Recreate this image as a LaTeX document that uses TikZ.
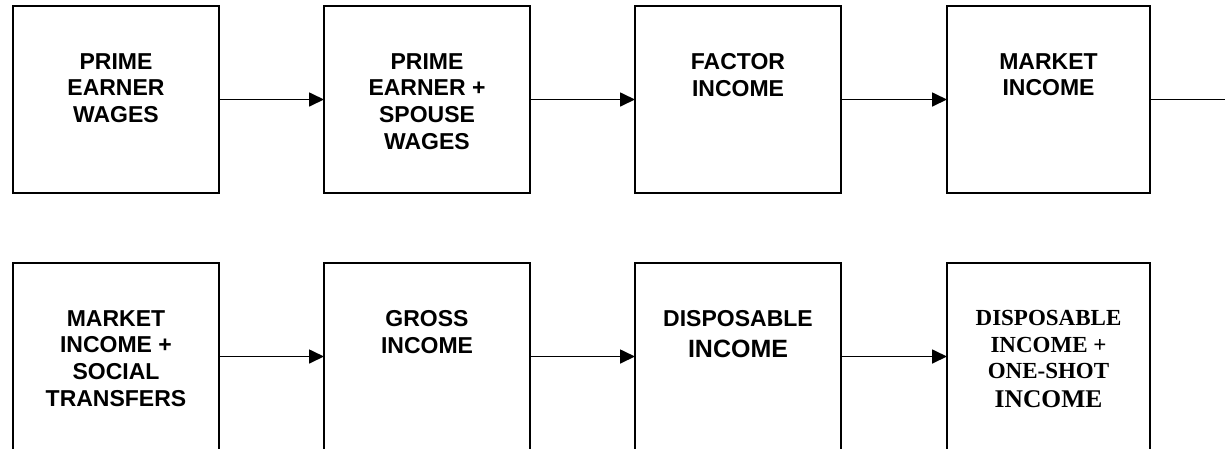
\documentclass[tikz,border=0pt]{standalone}
\usepackage{fontspec}
\setmainfont{Liberation Sans}
\newfontfamily\timesfont{Liberation Serif}
\usetikzlibrary{arrows.meta}
\tikzset{
  box/.style={draw=black, line width=2pt, rectangle, minimum height=187pt, inner sep=0pt, outer sep=0pt},
  wbox/.style={box, minimum width=206pt},
  nbox/.style={box, minimum width=203pt},
  lbl/.style={anchor=north, align=center, inner sep=0pt, font=\bfseries\fontsize{23}{26.9}\selectfont},
  lblserif/.style={lbl, font=\timesfont\bfseries\fontsize{23}{26.7}\selectfont},
  conn/.style={line width=1.7pt, -{Triangle[length=15pt,width=14pt]}},
  plainconn/.style={line width=1.7pt}
}
\begin{document}
\begin{tikzpicture}[x=1pt,y=-1pt]
\useasboundingbox (0,0) rectangle (1225,448);
\clip (0,0) rectangle (1225,448);
% row 1
\node[wbox] (b1) at (116,99.5) {};
\node[wbox] (b2) at (427,99.5) {};
\node[wbox] (b3) at (738,99.5) {};
\node[nbox] (b4) at (1048.5,99.5) {};
% row 2
\node[wbox] (c1) at (116,356.5) {};
\node[wbox] (c2) at (427,356.5) {};
\node[wbox] (c3) at (738,356.5) {};
\node[nbox] (c4) at (1048.5,356.5) {};
% labels
\node[lbl] (t1) at (116,53) {PRIME\\EARNER\\WAGES};
\node[lbl] (t2) at (427,53) {PRIME\\EARNER +\\SPOUSE\\WAGES};
\node[lbl] (t3) at (738,53) {FACTOR\\INCOME};
\node[lbl] (t4) at (1048.5,53) {MARKET\\INCOME};
\node[lbl] (u1) at (116,310) {MARKET\\INCOME +\\SOCIAL\\TRANSFERS};
\node[lbl] (u2) at (427,310) {GROSS\\INCOME};
\node[lbl] (u3) at (738,310) {DISPOSABLE\\[4pt]{\fontsize{25}{27}\selectfont INCOME}};
\node[lblserif] (u4) at (1048.5,310) {DISPOSABLE\\INCOME +\\ONE-SHOT\\[1.6pt]{\fontsize{25.5}{28}\selectfont INCOME}};
% connectors
\coordinate (cont) at (1240,99.5);
\draw[conn] (b1.east) -- (b2.west);
\draw[conn] (b2.east) -- (b3.west);
\draw[conn] (b3.east) -- (b4.west);
\draw[plainconn] (b4.east) -- (cont);
\draw[conn] (c1.east) -- (c2.west);
\draw[conn] (c2.east) -- (c3.west);
\draw[conn] (c3.east) -- (c4.west);
\end{tikzpicture}
\end{document}
